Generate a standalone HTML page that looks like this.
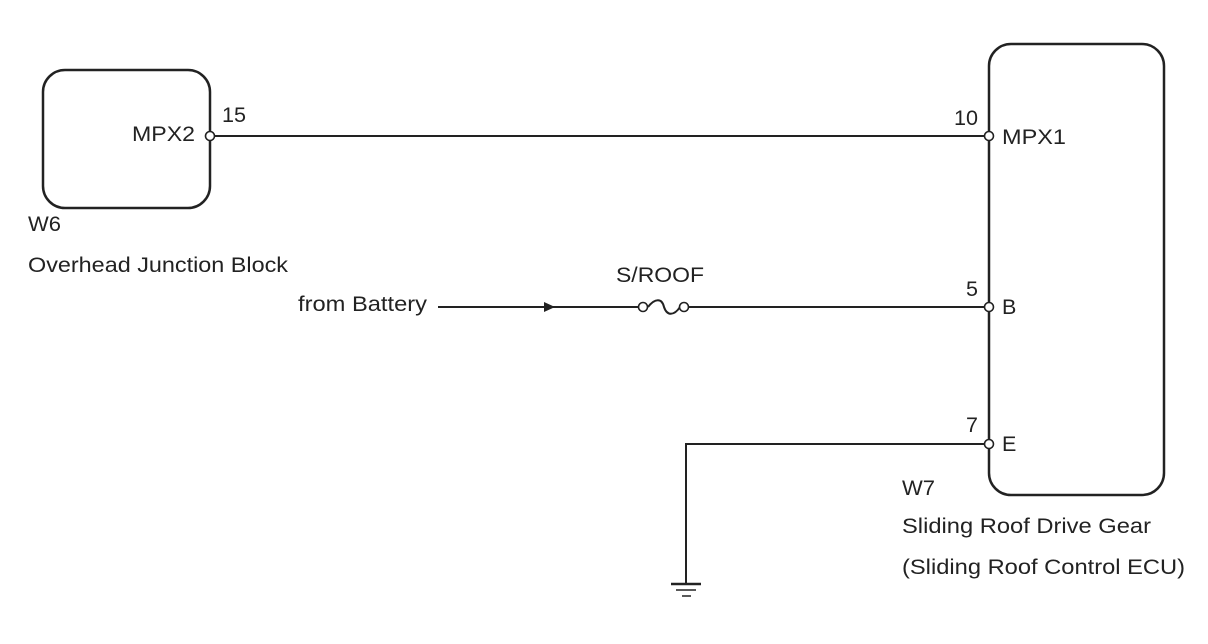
<!DOCTYPE html>
<html><head><meta charset="utf-8"><style>
html,body{margin:0;padding:0;background:#fff;}
svg{display:block;}
text{font-family:"Liberation Sans",Arial,sans-serif;font-size:21.5px;fill:#222;}
</style></head><body>
<svg width="1208" height="644" viewBox="0 0 1208 644" xmlns="http://www.w3.org/2000/svg">
<g fill="none" stroke="#222" stroke-width="2.5">
<rect x="43" y="70" width="167" height="138" rx="22"/>
<rect x="989" y="44" width="175" height="451" rx="22"/>
<line x1="214" y1="136" x2="985" y2="136" stroke-width="2"/>
<line x1="438" y1="307" x2="640" y2="307" stroke-width="2"/>
<line x1="689" y1="307" x2="985" y2="307" stroke-width="2"/>
<polyline points="985,444 686,444 686,584" stroke-width="2"/>
<line x1="671" y1="584" x2="701" y2="584" stroke-width="2.5"/>
<line x1="676" y1="590" x2="696" y2="590" stroke-width="1.5"/>
<line x1="682" y1="596" x2="691" y2="596" stroke-width="1.5"/>
<path d="M648,307 C655,298 662,298 664,307 C667,316 674,316 680,307" stroke-width="2"/>
</g>
<polygon points="544,302 555,307 544,312" fill="#222"/>
<g fill="#fff" stroke="#222" stroke-width="1.6">
<circle cx="210" cy="136" r="4.5"/>
<circle cx="989" cy="136" r="4.5"/>
<circle cx="989" cy="307" r="4.5"/>
<circle cx="989" cy="444" r="4.5"/>
<circle cx="643" cy="307" r="4.5"/>
<circle cx="684" cy="307" r="4.5"/>
</g>
<text x="132" y="141" textLength="63" lengthAdjust="spacingAndGlyphs">MPX2</text>
<text x="222" y="122" textLength="24" lengthAdjust="spacingAndGlyphs">15</text>
<text x="954" y="125" textLength="24" lengthAdjust="spacingAndGlyphs">10</text>
<text x="1002" y="144" textLength="64" lengthAdjust="spacingAndGlyphs">MPX1</text>
<text x="966" y="296">5</text>
<text x="1002" y="314">B</text>
<text x="966" y="432">7</text>
<text x="1002" y="451">E</text>
<text x="28" y="231" textLength="33" lengthAdjust="spacingAndGlyphs">W6</text>
<text x="28" y="272" textLength="260" lengthAdjust="spacingAndGlyphs">Overhead Junction Block</text>
<text x="298" y="311" textLength="129" lengthAdjust="spacingAndGlyphs">from Battery</text>
<text x="616" y="282" textLength="88" lengthAdjust="spacingAndGlyphs">S/ROOF</text>
<text x="902" y="495" textLength="33" lengthAdjust="spacingAndGlyphs">W7</text>
<text x="902" y="533" textLength="249" lengthAdjust="spacingAndGlyphs">Sliding Roof Drive Gear</text>
<text x="902" y="574" textLength="283" lengthAdjust="spacingAndGlyphs">(Sliding Roof Control ECU)</text>
</svg>
</body></html>
